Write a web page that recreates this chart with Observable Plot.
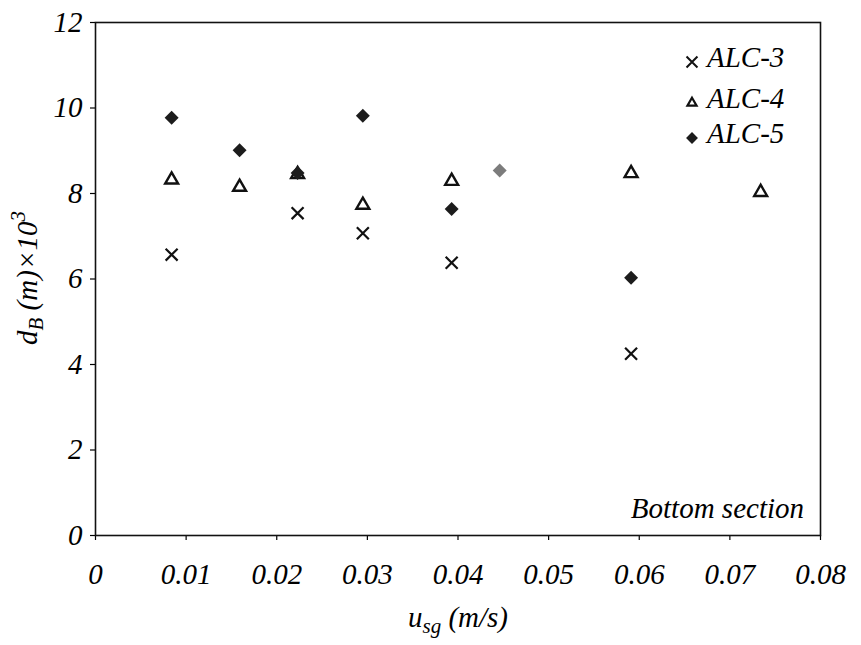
<!DOCTYPE html>
<html>
<head>
<meta charset="utf-8">
<script src="https://cdn.jsdelivr.net/npm/d3@7"></script>
<script src="https://cdn.jsdelivr.net/npm/@observablehq/plot@0.6"></script>
<style>
  html, body { margin: 0; padding: 0; background: white; }
</style>
</head>
<body>
<div id="chart"></div>
<script>
// ---- data ----
const xTicks = [0, 0.01, 0.02, 0.03, 0.04, 0.05, 0.06, 0.07, 0.08];
const yTicks = [0, 2, 4, 6, 8, 10, 12];

const alc3X = [0.0084, 0.0223, 0.0295, 0.0393, 0.0591];
const alc3Y = [6.57, 7.54, 7.07, 6.38, 4.25];

const alc4X = [0.0084, 0.0159, 0.0223, 0.0295, 0.0393, 0.0591, 0.0734];
const alc4Y = [8.32, 8.15, 8.45, 7.73, 8.29, 8.47, 8.03];

const alc5X = [0.0084, 0.0159, 0.0223, 0.0295, 0.0393, 0.0446, 0.0591];
const alc5Y = [9.77, 9.01, 8.48, 9.82, 7.64, 8.54, 6.03];

const seriesNames = ["ALC-3", "ALC-4", "ALC-5"];
const annotation = "Bottom section";

const FONT = "Liberation Serif";
const FS = 29;

// ---- build tables ----
const toRows = (xs, ys, s) => xs.map((x, i) => ({x, y: ys[i], s}));
const d3rows = toRows(alc3X, alc3Y, seriesNames[0]);
const d4rows = toRows(alc4X, alc4Y, seriesNames[1]);
const d5rows = toRows(alc5X, alc5Y, seriesNames[2]);

const fmtX = d => d === 0 ? "0" : d.toFixed(2);

const chart = Plot.plot({
  width: 861,
  height: 645,
  marginLeft: 95,
  marginRight: 41,
  marginTop: 22,
  marginBottom: 110,
  x: {domain: [0, 0.08], label: null},
  y: {domain: [0, 12], label: null},
  marks: [
    Plot.axisX({ticks: xTicks, tickFormat: fmtX, tickSize: 5, tickPadding: 23, fontSize: FS, fontStyle: "italic", fontFamily: FONT, fontVariant: "normal", label: null, strokeWidth: 1.2}),
    Plot.axisY({ticks: yTicks, tickSize: 5, tickPadding: 8, fontSize: FS, fontStyle: "italic", fontFamily: FONT, fontVariant: "normal", label: null, strokeWidth: 1.2}),
    Plot.dot(d4rows, {x: "x", y: "y", symbol: "triangle", r: 4.8, stroke: "#111", strokeWidth: 2.4, fill: "none"}),
    Plot.dot(d5rows, {x: "x", y: "y", symbol: "diamond2", r: 6.3, fill: d => d.x === 0.0446 ? "#7c7c7c" : "#1c1c1c", stroke: "none"}),
    Plot.dot(d3rows, {x: "x", y: "y", symbol: "times", r: 5.5, stroke: "#111", strokeWidth: 2.2}),
    Plot.frame({stroke: "#111", strokeWidth: 1.6})
  ]
});

chart.setAttribute("font-family", FONT);
chart.setAttribute("font-style", "italic");
chart.setAttribute("font-size", FS);
chart.removeAttribute("class");
chart.querySelectorAll("style").forEach(s => s.remove());
chart.querySelectorAll("[font-variant]").forEach(n => n.removeAttribute("font-variant"));
chart.style.display = "block";
chart.style.background = "white";

document.getElementById("chart").appendChild(chart);

const svg = d3.select(chart);
const addText = (sel) => sel
  .attr("font-family", FONT).attr("font-size", FS).attr("font-style", "italic")
  .attr("fill", "black");

// x axis title
const xt = addText(svg.append("text"))
  .attr("x", 458).attr("y", 627)
  .attr("text-anchor", "middle");
xt.append("tspan").text("u");
xt.append("tspan").attr("font-size", 21).attr("dy", 6).text("sg");
xt.append("tspan").attr("dy", -6).text(" (m/s)");

// y axis title
const yt = addText(svg.append("text"))
  .attr("transform", "translate(37,278) rotate(-90)")
  .attr("text-anchor", "middle");
yt.append("tspan").text("d");
yt.append("tspan").attr("font-size", 21).attr("dy", 6).text("B");
yt.append("tspan").attr("dy", -6).text(" (m)\u00d710");
yt.append("tspan").attr("font-size", 21).attr("dy", -12).text("3");

// legend
const legendSymbols = [
  {sym: d3.symbolTimes, size: 80, fill: "none", stroke: "#111", sw: 2},
  {sym: d3.symbolTriangle2, size: 60, fill: "none", stroke: "#111", sw: 2.2},
  {sym: d3.symbolDiamond2, size: 90, fill: "#1c1c1c", stroke: "none", sw: 0}
];
const rowY = [58, 99, 134];
const lg = svg.append("g");
seriesNames.forEach((name, i) => {
  const s = legendSymbols[i];
  lg.append("path")
    .attr("transform", `translate(692,${rowY[i] + 4})`)
    .attr("d", d3.symbol(s.sym, s.size)())
    .attr("fill", s.fill).attr("stroke", s.stroke).attr("stroke-width", s.sw);
  addText(lg.append("text"))
    .attr("x", 707).attr("y", rowY[i] + 9)
    .attr("text-anchor", "start")
    .text(name);
});

// annotation
addText(svg.append("text"))
  .attr("x", 804).attr("y", 518)
  .attr("text-anchor", "end")
  .text(annotation);

// force the serif italic face on every label
chart.querySelectorAll("text, tspan").forEach(t => {
  t.style.setProperty("font-family", "\"Liberation Serif\", \"Times New Roman\", serif", "important");
  t.style.setProperty("font-style", "italic", "important");
});
</script>
</body>
</html>
